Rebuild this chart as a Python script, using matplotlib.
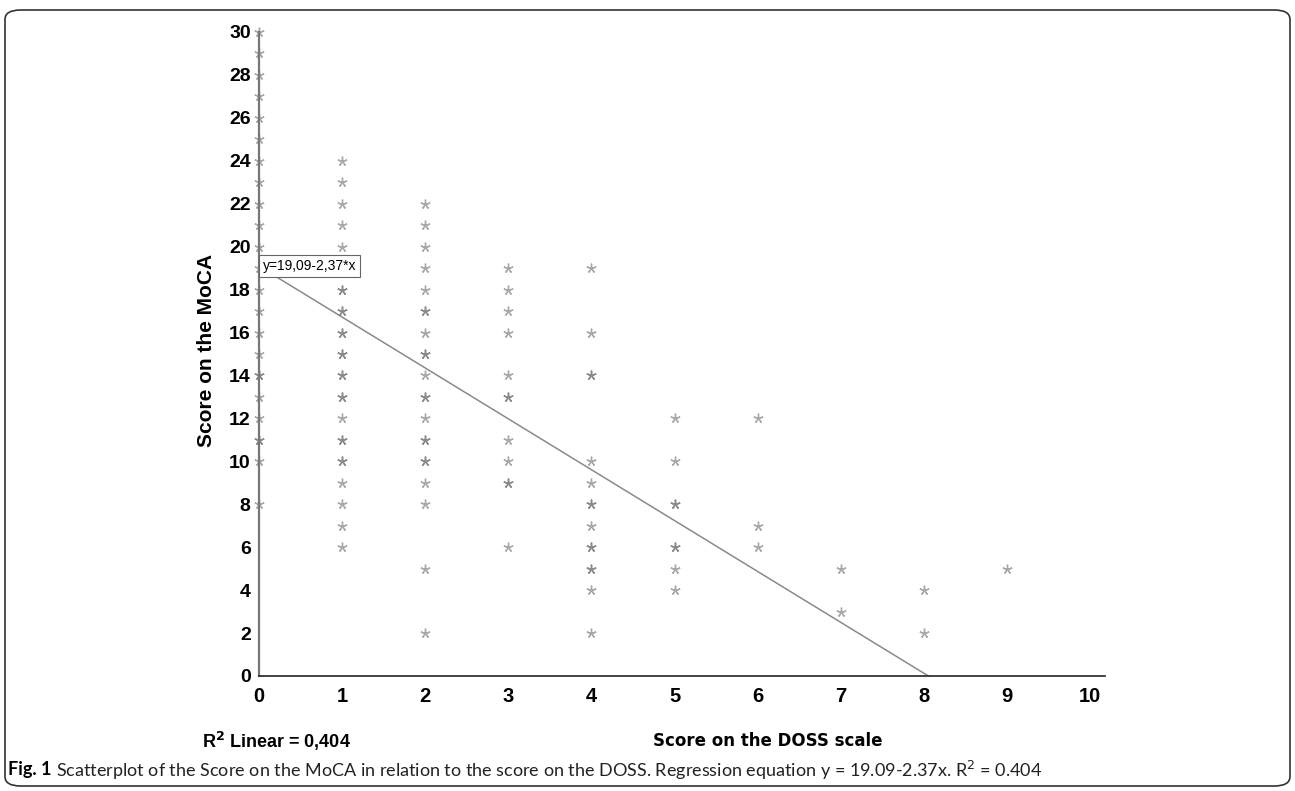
import matplotlib
matplotlib.use("Agg")
import matplotlib.pyplot as plt
from matplotlib.patches import FancyBboxPatch

plt.rcParams['font.family'] = ['Liberation Sans', 'DejaVu Sans']

# DOSS score (x) and MoCA score (y), repeated points are drawn twice (darker)
doss_0 = [0] * 24
moca_0 = [30, 29, 28, 27, 26, 25, 24, 23, 22, 21, 20, 19, 18, 17, 16, 15,
          14, 13, 12, 11, 10, 8, 14, 11]
doss_1 = [1] * 27
moca_1 = [24, 23, 22, 21, 20, 19, 18, 17, 16, 15, 14, 13, 12, 11, 10, 9, 8,
          7, 6, 18, 17, 16, 15, 14, 13, 11, 10]
doss_2 = [2] * 22
moca_2 = [22, 21, 20, 19, 18, 17, 16, 15, 14, 13, 12, 11, 10, 9, 8, 5, 2,
          17, 15, 13, 11, 10]
doss_3 = [3] * 12
moca_3 = [19, 18, 17, 16, 14, 13, 11, 10, 9, 6, 13, 9]
doss_4 = [4] * 15
moca_4 = [19, 16, 14, 10, 9, 8, 7, 6, 5, 4, 2, 14, 8, 6, 5]
doss_5 = [5] * 8
moca_5 = [12, 10, 8, 6, 5, 4, 8, 6]
doss_6 = [6] * 3
moca_6 = [12, 7, 6]
doss_7 = [7] * 2
moca_7 = [5, 3]
doss_8 = [8] * 2
moca_8 = [4, 2]
doss_9 = [9]
moca_9 = [5]

intercept = 19.09
slope = -2.37
x_ticks = list(range(0, 11))
y_ticks = list(range(0, 31, 2))

doss = doss_0 + doss_1 + doss_2 + doss_3 + doss_4 + doss_5 + doss_6 + doss_7 + doss_8 + doss_9
moca = moca_0 + moca_1 + moca_2 + moca_3 + moca_4 + moca_5 + moca_6 + moca_7 + moca_8 + moca_9

W, H = 1295, 791
fig = plt.figure(figsize=(W / 100, H / 100), dpi=100)
ax = fig.add_axes([259 / W, 1 - 676 / H, (1105 - 259) / W, (676 - 32) / H])

ax.plot(doss, moca, ls='none', marker=(5, 2, 0), ms=7, mew=1.0,
        color='#7a7a7a', alpha=0.65, clip_on=False, zorder=3)

x_end = -intercept / slope
ax.plot([0, x_end], [intercept, 0], color='#8a8a8a', lw=1.1, zorder=2)

ax.text(0.045, 19.1, 'y=19,09-2,37*x', fontsize=10, va='center', ha='left',
        bbox=dict(boxstyle='square,pad=0.3', fc='white', ec='#666666', lw=0.8),
        zorder=4)

ax.set_xlim(0, 10.18)
ax.set_ylim(0, 30)
ax.set_xticks(x_ticks)
ax.set_yticks(y_ticks)
ax.tick_params(length=0)
ax.tick_params(axis='x', pad=8, labelsize=14.5)
ax.tick_params(axis='y', pad=6, labelsize=14)
for lab in ax.get_xticklabels() + ax.get_yticklabels():
    lab.set_fontweight('bold')
ax.spines['top'].set_visible(False)
ax.spines['right'].set_visible(False)
ax.spines['left'].set_color('#777777')
ax.spines['left'].set_linewidth(1.6)
ax.spines['bottom'].set_color('#222222')
ax.spines['bottom'].set_linewidth(1.2)

fig.text(206 / W, 1 - 350 / H, 'Score on the MoCA', rotation=90,
         fontsize=15, fontweight='bold', ha='center', va='center')
fig.text(202 / W, 1 - 741 / H, r'R$^{\mathbf{2}}$ Linear = 0,404', fontsize=13,
         fontweight='bold', ha='left', va='center')
fig.text(653 / W, 1 - 741 / H, 'Score on the DOSS scale', fontsize=12,
         fontweight='heavy', family='DejaVu Sans', ha='left', va='center')

# caption
cap_y = 1 - 770 / H
t1 = fig.text(8 / W, cap_y, 'Fig. 1', fontsize=13, fontweight='bold',
              family='Lato', ha='left', va='center')
r = fig.canvas.get_renderer()
bb = t1.get_window_extent(r)
fig.text((bb.x1 + 5) / W, cap_y,
         r'Scatterplot of the Score on the MoCA in relation to the score on the DOSS. '
         r'Regression equation y = 19.09-2.37x. R$^2$ = 0.404',
         fontsize=13, family='Lato', color='#222222', ha='left', va='center')

frame = FancyBboxPatch((5 / W, 1 - 786 / H), (1290 - 5) / W, (786 - 10) / H,
                       boxstyle='round,pad=0,rounding_size=0.012',
                       transform=fig.transFigure, fc='none', ec='#333333', lw=1.2)
fig.patches.append(frame)

fig.savefig('out.png', dpi=100)
